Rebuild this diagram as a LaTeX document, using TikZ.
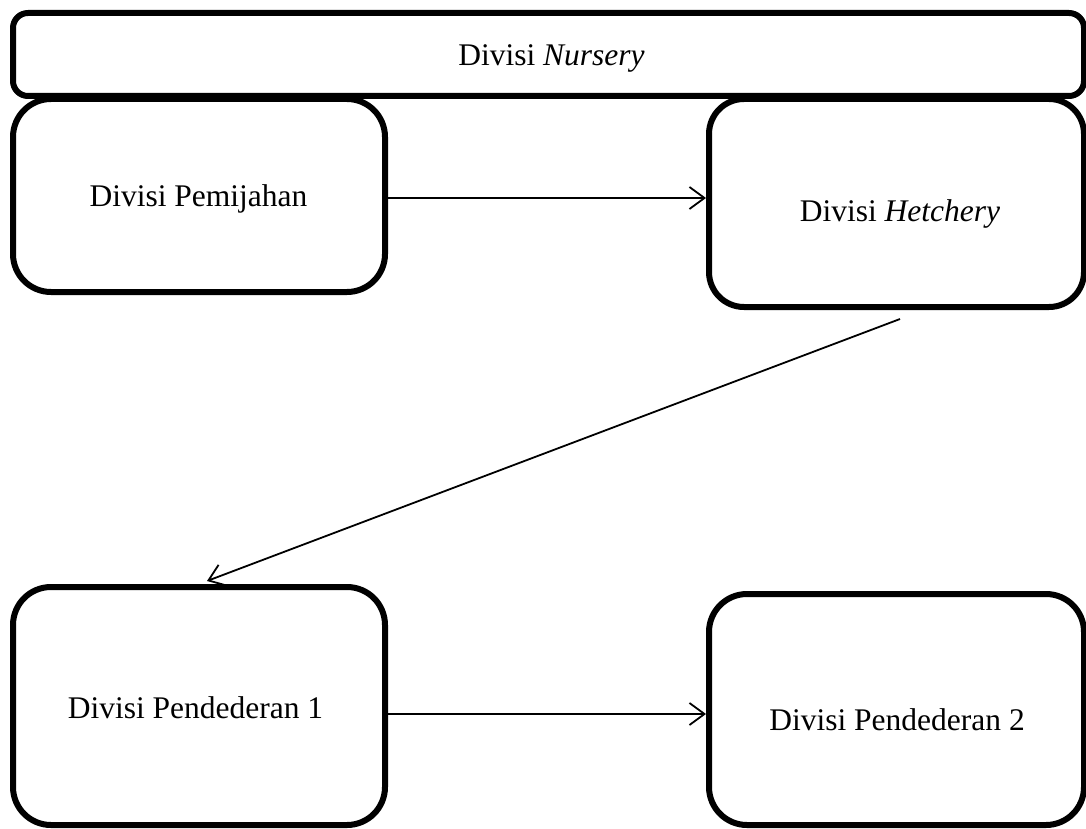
\documentclass[tikz,border=0pt]{standalone}
\usepackage{fontspec}
\setmainfont{Liberation Serif}
\usetikzlibrary{arrows.meta}
\begin{document}
\begin{tikzpicture}[x=1pt,y=-1pt,
  box/.style={draw=black,line width=6pt,inner sep=0pt,fill=none},
  lbl/.style={anchor=base,inner sep=0pt,font=\fontsize{31.5}{38}\selectfont},
  arr/.style={draw=black,line width=1.8pt,-{Straight Barb[length=15pt,width=22pt]}}]
\useasboundingbox (0,0) rectangle (1086,829);
% boxes
\node[box,rounded corners=15pt,minimum width=1071pt,minimum height=83pt] (nur) at (548.5,54.5) {};
\node[box,rounded corners=38pt,minimum width=372pt,minimum height=193pt] (pem) at (199,195.5) {};
\node[box,rounded corners=35pt,minimum width=375pt,minimum height=208pt] (het) at (896.5,203) {};
\node[box,rounded corners=38pt,minimum width=372pt,minimum height=238pt] (pd1) at (199,706) {};
\node[box,rounded corners=38pt,minimum width=375pt,minimum height=231pt] (pd2) at (896.5,709.5) {};
% labels
\node[lbl] (tnur) at (551.5,66) {Divisi \textit{Nursery}};
\node[lbl] (tpem) at (198.5,206) {Divisi Pemijahan};
\node[lbl] (thet) at (900,221) {Divisi \textit{Hetchery}};
\node[lbl] (tpd1) at (195.5,718) {Divisi Pendederan 1};
\node[lbl] (tpd2) at (897,730) {Divisi Pendederan 2};
% connectors
\draw[arr] ([yshift=-2.5pt]pem.east) -- ([yshift=-2.5pt]pem.east -| het.west);
\draw[arr] ([xshift=3.5pt,yshift=-9pt]het.south) -- ([xshift=8pt,yshift=3pt]pd1.north);
\draw[arr] ([yshift=-8pt]pd1.east) -- ([yshift=-8pt]pd1.east -| pd2.west);
\end{tikzpicture}
\end{document}
